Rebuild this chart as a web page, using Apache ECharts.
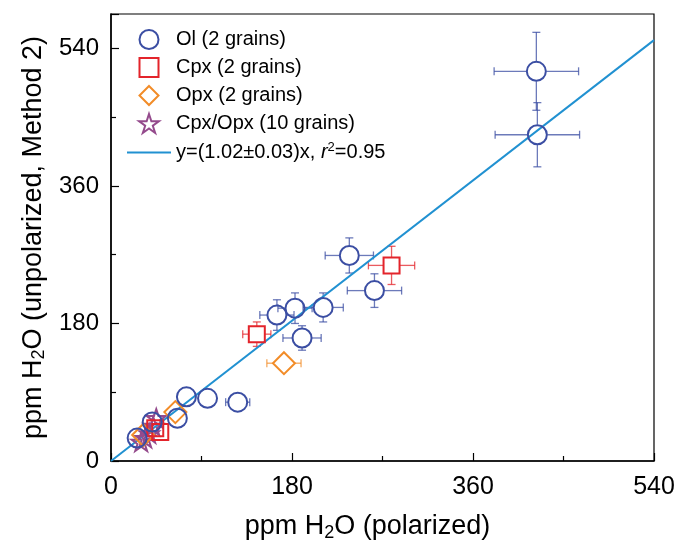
<!DOCTYPE html>
<html>
<head>
<meta charset="utf-8">
<script src="https://cdn.jsdelivr.net/npm/echarts@6/dist/echarts.min.js"></script>
<style>
  html, body { margin: 0; padding: 0; background: #fff; }
  #chart { width: 681px; height: 556px; }
</style>
</head>
<body>
<div id="chart"></div>
<script>
// [x, y, xErr, yErr]
const olData = [
    [423, 510, 42, 51],
    [424, 427, 42, 42],
    [237, 269, 24, 23],
    [262, 223, 27, 22],
    [211, 201, 20, 19],
    [183, 200, 17, 20],
    [165, 191, 17, 20],
    [190, 161, 19, 16],
    [126, 77, 12, 4],
    [96, 82, 5, 4],
    [75, 84, 4, 4],
    [66, 56, 4, 4],
    [41, 51, 3, 3],
    [26, 30, 3, 3],
];
const cpxData = [
    [279, 256, 23, 25],
    [145, 166, 14, 16],
    [49, 38, 4, 4],
    [44, 43, 3, 3],
];
const opxData = [
    [172, 128, 17, 4],
    [64, 64, 4, 4],
    [32, 34, 3, 3],
];
const cpxOpxData = [
    [30, 25, 2, 2],
    [34, 30, 2, 2],
    [38, 36, 2, 2],
    [42, 46, 2, 2],
    [45, 56, 2, 2],
];
const fitSlope = 1.02;
const fitX = [0, 540];
const axisTicks = [0, 180, 360, 540];

const BLUE = "#3b4ea3";
const RED = "#e3242b";
const ORANGE = "#f28c28";
const PURPLE = "#944a8c";
const LINE = "#2191d1";

const FONT = "Liberation Sans, Arial, sans-serif";

const starPath = "path://M50,2 L61.8,38.2 L99.5,38.2 L69,60.6 L80.7,96.8 L50,74.4 L19.3,96.8 L31,60.6 L0.5,38.2 L38.2,38.2 Z";
const squarePath = "path://M0,0 L10,0 L10,10 L0,10 Z";
const diamondPath = "path://M5,0 L10,5 L5,10 L0,5 Z";
const linePath = "path://M0,0 L100,0 L100,4 L0,4 Z";

// error bars stop at the marker edge (gap = marker radius in px)
const errorBars = (data, color, gap) => ({
    type: "custom",
    silent: true,
    z: 1,
    data: data,
    renderItem: function (params, api) {
        const x = api.value(0), y = api.value(1);
        const ex = api.value(2), ey = api.value(3);
        const c = api.coord([x, y]);
        const l = api.coord([x - ex, y])[0];
        const r = api.coord([x + ex, y])[0];
        const t = api.coord([x, y + ey])[1];
        const b = api.coord([x, y - ey])[1];
        const cap = 4;
        const st = { stroke: color, lineWidth: 1.3, opacity: 0.75 };
        const kids = [];
        if (c[0] - l > gap) {
            kids.push({ type: "line", shape: { x1: l, y1: c[1], x2: c[0] - gap, y2: c[1] }, style: st });
            kids.push({ type: "line", shape: { x1: r, y1: c[1], x2: c[0] + gap, y2: c[1] }, style: st });
            kids.push({ type: "line", shape: { x1: l, y1: c[1] - cap, x2: l, y2: c[1] + cap }, style: st });
            kids.push({ type: "line", shape: { x1: r, y1: c[1] - cap, x2: r, y2: c[1] + cap }, style: st });
        }
        if (c[1] - t > gap) {
            kids.push({ type: "line", shape: { x1: c[0], y1: t, x2: c[0], y2: c[1] - gap }, style: st });
            kids.push({ type: "line", shape: { x1: c[0], y1: b, x2: c[0], y2: c[1] + gap }, style: st });
            kids.push({ type: "line", shape: { x1: c[0] - cap, y1: t, x2: c[0] + cap, y2: t }, style: st });
            kids.push({ type: "line", shape: { x1: c[0] - cap, y1: b, x2: c[0] + cap, y2: b }, style: st });
        }
        return { type: "group", children: kids };
    },
});

const scatter = (name, data, symbol, size, color, z) => ({
    name: name,
    type: "scatter",
    data: data.map((d) => [d[0], d[1]]),
    symbol: symbol,
    symbolSize: size,
    symbolKeepAspect: true,
    z: z,
    itemStyle: { color: "rgba(255,255,255,0)", borderColor: color, borderWidth: 2, opacity: 1 },
});

const chart = echarts.init(document.getElementById("chart"));

const option = {
    animation: false,
    textStyle: { fontFamily: FONT, color: "#000" },
    grid: {
        left: 111, right: 27, top: 14, bottom: 95,
        show: true, borderColor: "#000", borderWidth: 1.2,
    },
    legend: {
        orient: "vertical",
        left: 122,
        top: 24,
        itemWidth: 44,
        itemHeight: 19,
        itemGap: 7,
        textStyle: {
            fontSize: 20,
            fontFamily: FONT,
            color: "#000",
            rich: {
                i: { fontSize: 20, fontStyle: "italic", fontFamily: FONT },
                sup: { fontSize: 13, padding: [0, 0, 10, 0], fontFamily: FONT },
            },
        },
        data: [
            { name: "Ol (2 grains)" },
            { name: "Cpx (2 grains)" },
            { name: "Opx (2 grains)" },
            { name: "Cpx/Opx (10 grains)" },
            { name: "fit", icon: linePath },
        ],
        formatter: function (name) {
            if (name === "fit") return "y=(1.02±0.03)x, {i|r}{sup|2}=0.95";
            return name;
        },
    },
    xAxis: {
        type: "value",
        min: 0,
        max: 540,
        interval: 180,
        name: "ppm H{sub|2}O (polarized)",
        nameLocation: "middle",
        nameGap: 51,
        nameTextStyle: {
            fontSize: 27,
            color: "#000",
            padding: [0, 30, 0, 0],
            rich: { sub: { fontSize: 18, padding: [12, 0, 0, 0] } },
        },
        axisLine: { lineStyle: { color: "#000", width: 1.5 } },
        axisTick: { inside: true, length: 8, lineStyle: { color: "#000", width: 1.2 } },
        minorTick: { show: true, splitNumber: 2, length: 5, lineStyle: { color: "#000", width: 1.2 } },
        axisLabel: { fontSize: 25, color: "#000", margin: 14 },
        splitLine: { show: false },
    },
    yAxis: {
        type: "value",
        min: 0,
        max: 585,
        interval: 180,
        name: "ppm H{sub|2}O (unpolarized, Method 2)",
        nameLocation: "middle",
        nameGap: 57,
        nameTextStyle: {
            fontSize: 27,
            color: "#000",
            rich: { sub: { fontSize: 18, padding: [12, 0, 0, 0] } },
        },
        axisLine: { lineStyle: { color: "#000", width: 1.5 } },
        axisTick: { inside: true, length: 8, lineStyle: { color: "#000", width: 1.2 } },
        minorTick: { show: true, splitNumber: 2, length: 5, lineStyle: { color: "#000", width: 1.2 } },
        axisLabel: {
            fontSize: 24, color: "#000", margin: 12,
            formatter: (v) => (axisTicks.includes(v) ? String(v) : ""),
        },
        splitLine: { show: false },
    },
    series: [
        {
            name: "fit",
            type: "line",
            data: fitX.map((x) => [x, x * fitSlope]),
            symbol: "none",
            z: 2,
            lineStyle: { color: LINE, width: 2 },
            itemStyle: { color: LINE },
        },
        errorBars(olData, BLUE, 10),
        errorBars(cpxData, RED, 8),
        errorBars(opxData, ORANGE, 11),
        scatter("Cpx/Opx (10 grains)", cpxOpxData, starPath, 19, PURPLE, 3),
        scatter("Opx (2 grains)", opxData, diamondPath, 22, ORANGE, 4),
        scatter("Cpx (2 grains)", cpxData, squarePath, 16, RED, 5),
        scatter("Ol (2 grains)", olData, "circle", 19, BLUE, 6),
    ],
};

chart.setOption(option);
</script>
</body>
</html>
